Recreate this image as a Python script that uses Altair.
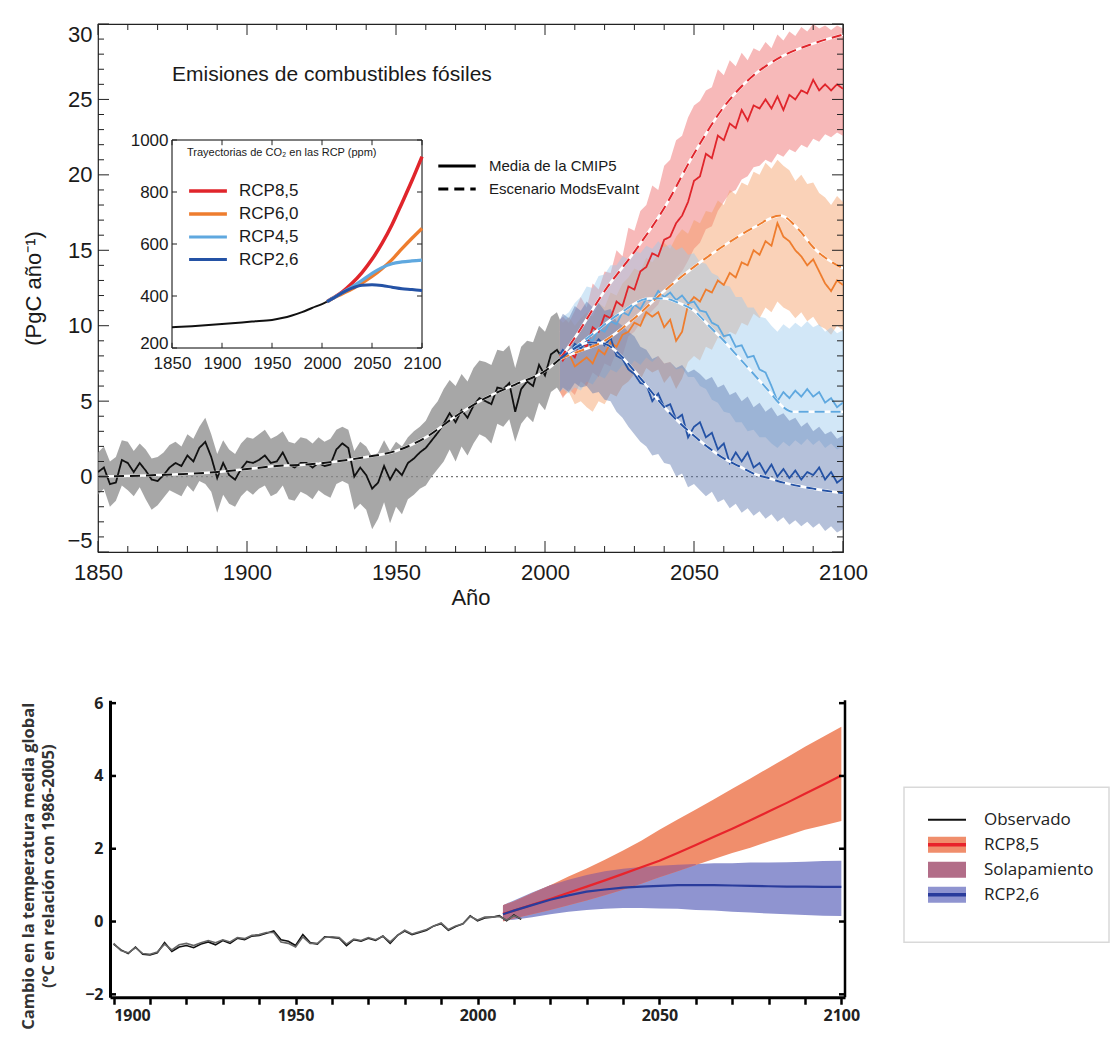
import altair as alt
import pandas as pd

F1 = "Liberation Sans, Arial, sans-serif"
F2 = "Open Sans, sans-serif"
INK = "#1a1a1a"

# ====================== TOP PANEL: fossil-fuel emissions (PgC/yr) ======================
HIST_YEARS = list(range(1850, 2005, 2)) + [2005]
HIST_MEAN = [
    0.3, 0.6, -0.5, -0.4, 1.1,
    0.9, 0.3, 0.9, 0.4, -0.2,
    -0.3, 0.1, 0.6, 0.9, 0.7,
    1.4, 1.0, 1.9, 2.3, 1.3,
    -0.1, 0.9, 0.1, -0.2, 0.5,
    1.0, 0.9, 1.1, 1.4, 0.9,
    1.0, 1.6, 0.8, 0.6, 0.9,
    0.9, 0.6, 0.9, 0.7, 0.8,
    1.8, 2.2, 1.9, 0.0, 0.6,
    0.1, -0.8, -0.4, 0.7, -0.2,
    0.5, 0.1, 0.9, 1.2, 1.6,
    1.9, 2.4, 2.9, 3.5, 4.2,
    3.6, 4.4, 3.9, 4.7, 5.2,
    5.0, 4.8, 5.9, 5.8, 6.2,
    4.3, 5.8, 6.3, 6.0, 7.4,
    6.7, 8.1, 8.4, 8.1,
]
HIST_LO = [
    -1.2, -0.8, -2.0, -1.6, -0.6,
    -0.9, -1.3, -0.7, -1.5, -2.2,
    -1.9, -1.4, -0.9, -1.1, -1.3,
    -0.6, -1.0, -0.3, -0.5, -1.0,
    -2.4, -1.2, -1.8, -2.0, -1.3,
    -0.9, -1.2, -0.8, -0.6, -1.3,
    -1.1, -0.6, -1.5, -1.6, -1.0,
    -1.2, -1.5, -0.9, -1.2, -1.4,
    -0.5, -0.3, -0.5, -2.2, -1.8,
    -2.2, -3.5, -2.8, -1.7, -3.1,
    -2.0, -2.5, -1.5, -1.2, -0.8,
    -0.6, 0.0, 0.5, 1.0, 1.8,
    1.0, 2.0, 1.4, 2.2, 2.8,
    2.6, 2.2, 3.5, 3.3, 3.8,
    2.3, 3.5, 4.0, 3.6, 4.9,
    4.4, 5.6, 5.9, 5.6,
]
HIST_HI = [
    1.6, 2.0, 1.0, 1.3, 2.4,
    2.3, 1.7, 2.2, 1.8, 1.2,
    1.3, 1.6, 2.1, 2.3, 2.0,
    2.8, 2.5, 3.3, 3.9, 2.8,
    1.5, 2.4, 1.8, 1.5, 2.2,
    2.6, 2.5, 2.8, 3.1, 2.5,
    2.7, 3.0, 2.3, 2.2, 2.6,
    2.5, 2.2, 2.6, 2.3, 2.5,
    3.1, 3.3, 3.1, 1.7, 2.3,
    2.0, 1.3, 1.6, 2.4, 1.7,
    2.3, 2.0, 2.6, 3.0, 3.3,
    3.7, 4.5, 5.0, 5.8, 6.4,
    6.0, 6.8, 6.3, 7.2, 7.7,
    7.6, 7.4, 8.4, 8.3, 8.7,
    7.2, 8.6, 9.0, 8.9, 10.0,
    9.6, 10.6, 10.9, 10.4,
]
HIST_SMOOTH_YEARS = [1850, 1870, 1890, 1900, 1910, 1920, 1930, 1940, 1950, 1960, 1970, 1980, 1990, 2000, 2005]
HIST_SMOOTH = [0.0, 0.1, 0.3, 0.5, 0.7, 0.8, 1.0, 1.3, 1.7, 2.6, 4.0, 5.2, 6.1, 7.0, 7.8]

RCP_NAMES = ["RCP8,5", "RCP6,0", "RCP4,5", "RCP2,6"]
RCP_YEARS = [2005] + list(range(2006, 2101, 2))

RCP85_MEAN = [8.1,
    7.7, 8.3, 7.9, 8.9, 8.6,  9.9, 9.6, 10.7, 10.5, 11.6,
    11.3, 12.6, 12.4, 13.6, 13.9,  14.8, 14.6, 15.7, 15.9, 16.8,
    17.3, 18.2, 19.6, 19.9, 21.4,  21.1, 22.6, 22.3, 23.4, 23.1,
    24.3, 23.6, 24.6, 24.4, 25.0,  24.4, 25.2, 24.3, 25.3, 25.0,
    25.6, 25.4, 26.3, 25.6, 26.0,  25.6, 26.0, 25.7]
RCP85_HI = [10.4,
    10.6, 10.2, 11.0, 11.9, 11.2,  12.8, 12.4, 13.6, 13.5, 15.0,
    14.6, 16.5, 16.3, 17.6, 18.0,  19.3, 19.0, 20.6, 21.0, 22.3,
    22.6, 23.8, 24.6, 24.9, 25.6,  25.8, 27.0, 26.6, 27.6, 27.2,
    28.1, 27.6, 28.4, 28.2, 28.8,  28.4, 29.3, 28.9, 29.5, 29.2,
    29.8, 29.5, 30.0, 29.7, 29.9,  29.6, 29.9, 29.7]
RCP85_LO = [5.6,
    5.2, 5.8, 5.4, 6.3, 6.0,  6.9, 6.6, 7.5, 7.3, 8.3,
    8.0, 9.3, 9.6, 10.2, 10.6,  11.0, 11.4, 12.3, 12.5, 13.2,
    13.6, 14.3, 15.1, 15.5, 16.4,  16.6, 17.6, 18.2, 18.8, 19.0,
    19.7, 19.9, 20.5, 20.6, 21.0,  20.8, 21.4, 21.2, 21.7, 21.5,
    22.0, 21.8, 22.4, 22.2, 22.7,  22.5, 22.8, 22.6]

RCP60_MEAN = [8.1,
    7.8, 8.2, 7.3, 7.6, 7.9,  7.5, 8.4, 8.1, 8.9, 8.6,
    9.4, 9.6, 10.2, 10.0, 10.9,  10.6, 10.9, 9.9, 10.4, 9.0,
    9.6, 11.4, 11.9, 11.6, 12.4,  12.2, 13.0, 12.7, 13.5, 13.2,
    14.2, 14.0, 15.0, 14.7, 15.6,  15.3, 16.8, 15.9, 15.6, 15.0,
    14.6, 14.0, 14.4, 13.6, 12.8,  12.3, 13.0, 12.7]
RCP60_HI = [10.4,
    10.2, 10.6, 10.0, 10.5, 10.9,  10.6, 11.5, 11.2, 12.2, 12.0,
    12.8, 13.2, 13.8, 13.6, 14.5,  14.2, 14.8, 15.5, 15.1, 15.9,
    16.4, 16.1, 17.0, 16.8, 17.6,  17.5, 18.3, 18.0, 19.0, 18.7,
    19.5, 19.3, 20.2, 20.0, 20.8,  20.4, 21.0, 20.6, 20.3, 19.6,
    20.0, 19.4, 19.5, 18.8, 18.5,  18.0, 18.6, 18.2]
RCP60_LO = [5.6,
    5.3, 5.6, 4.8, 5.0, 4.6,  4.3, 5.0, 4.8, 5.5, 5.3,
    6.0, 6.3, 6.8, 6.4, 7.2,  6.9, 7.1, 6.2, 6.7, 5.8,
    6.5, 7.6, 8.0, 7.7, 8.6,  8.4, 9.2, 9.0, 9.6, 9.4,
    10.2, 10.0, 10.8, 10.5, 11.2,  10.9, 11.6, 11.2, 11.0, 10.5,
    10.9, 10.3, 10.6, 10.0, 9.8,  9.4, 10.0, 9.7]

RCP45_MEAN = [8.1,
    8.3, 8.0, 8.6, 8.4, 9.2,  9.0, 9.8, 9.6, 10.3, 10.1,
    10.9, 10.7, 11.4, 11.1, 11.8,  11.6, 12.3, 11.9, 12.2, 11.7,
    12.0, 11.5, 11.6, 11.0, 10.9,  10.2, 10.0, 9.3, 9.4, 8.6,
    8.7, 7.9, 8.0, 7.1, 6.9,  6.0, 5.0, 5.6, 5.2, 5.7,
    5.3, 5.8, 5.3, 5.6, 4.9,  5.2, 4.6, 4.9]
RCP45_HI = [10.4,
    10.6, 10.9, 11.5, 11.9, 12.6,  12.5, 13.3, 13.4, 14.0, 14.0,
    14.6, 14.4, 15.0, 14.8, 15.3,  15.1, 15.6, 15.2, 15.4, 15.0,
    15.2, 14.7, 14.8, 14.2, 14.1,  13.5, 13.3, 12.7, 12.6, 11.9,
    11.9, 11.2, 11.2, 10.6, 10.5,  10.0, 9.6, 10.1, 9.8, 10.2,
    9.9, 10.3, 9.9, 10.1, 9.6,  9.9, 9.5, 9.7]
RCP45_LO = [5.6,
    5.8, 5.5, 5.9, 5.7, 6.3,  6.1, 6.7, 6.5, 7.1, 6.9,
    7.4, 7.2, 7.7, 7.4, 7.9,  7.6, 8.0, 7.5, 7.6, 7.1,
    7.2, 6.6, 6.6, 6.0, 5.8,  5.1, 4.9, 4.3, 4.2, 3.6,
    3.6, 3.0, 3.1, 2.6, 2.6,  2.2, 1.9, 2.3, 2.0, 2.4,
    2.1, 2.5, 2.1, 2.4, 1.9,  2.2, 1.8, 2.0]

RCP26_MEAN = [8.1,
    8.4, 8.0, 8.8, 8.5, 9.0,  8.6, 9.1, 8.7, 9.2, 8.0,
    7.8, 7.1, 6.8, 6.2, 6.1,  5.0, 5.5, 4.6, 4.8, 3.8,
    4.1, 2.6, 3.3, 3.6, 2.6,  2.9, 1.8, 2.2, 0.9, 1.6,
    1.0, 1.6, 0.6, 0.9, 0.2,  0.8, 0.0, 0.5, -0.1, 0.4,
    -0.2, 0.3, 0.1, 0.6, -0.2,  0.3, -0.4, -0.1]
RCP26_HI = [10.4,
    10.8, 10.5, 11.3, 11.0, 11.6,  11.2, 11.5, 11.0, 11.1, 10.3,
    10.0, 9.6, 9.3, 8.6, 8.4,  7.8, 8.0, 7.5, 7.6, 7.2,
    7.4, 6.9, 7.1, 6.8, 6.4,  6.6, 5.9, 6.1, 5.4, 5.6,
    5.0, 5.3, 4.6, 4.9, 4.3,  4.6, 4.0, 4.2, 3.7, 3.9,
    3.3, 3.6, 3.0, 3.3, 2.8,  3.0, 2.5, 2.7]
RCP26_LO = [5.6,
    5.9, 5.6, 6.2, 5.9, 6.0,  5.5, 5.6, 5.1, 5.0, 4.3,
    3.9, 3.3, 2.8, 2.3, 2.0,  1.4, 1.5, 0.9, 0.8, 0.0,
    0.2, -0.7, -0.5, -0.9, -1.3,  -1.0, -1.7, -1.5, -2.1, -1.8,
    -2.4, -2.1, -2.6, -2.3, -2.8,  -2.5, -3.0, -2.7, -3.2, -2.9,
    -3.3, -3.0, -3.4, -3.1, -3.6,  -3.3, -3.7, -3.5]

RCP85_SM_YEARS = [2005, 2010, 2020, 2030, 2040, 2050, 2060, 2070, 2080, 2090, 2100]
RCP85_SM = [7.8, 9.2, 12.3, 14.9, 17.8, 21.4, 24.5, 26.6, 27.9, 28.7, 29.3]
RCP60_SM_YEARS = [2005, 2010, 2020, 2030, 2040, 2050, 2060, 2070, 2079, 2085, 2090, 2100]
RCP60_SM = [7.8, 8.2, 9.0, 10.5, 12.3, 13.9, 15.3, 16.5, 17.3, 16.4, 15.2, 13.8]
RCP45_SM_YEARS = [2005, 2015, 2025, 2035, 2040, 2045, 2050, 2055, 2060, 2065, 2070, 2075, 2080, 2083, 2090, 2100]
RCP45_SM = [7.8, 9.3, 10.8, 11.8, 11.8, 11.5, 11.0, 10.0, 9.0, 7.9, 6.8, 5.7, 4.6, 4.3, 4.3, 4.3]
RCP26_SM_YEARS = [2005, 2010, 2015, 2020, 2025, 2030, 2035, 2040, 2045, 2050, 2055, 2060, 2065, 2070, 2075, 2080, 2090, 2100]
RCP26_SM = [7.8, 8.5, 8.9, 8.8, 8.1, 7.0, 5.8, 4.6, 3.6, 2.7, 1.9, 1.2, 0.7, 0.2, -0.1, -0.4, -0.8, -1.1]

LINE_SERIES = ["Hist"] + RCP_NAMES
LINE_COLORS = ["#111111", "#e0252b", "#ee7d2e", "#5fa8df", "#2452a5"]
BAND_COLORS = ["#ee6464", "#f39c62", "#9ccaee", "#5a76ad"]
STYLES = ["Media de la CMIP5", "Escenario ModsEvaInt"]

X_LABELS = [1850, 1900, 1950, 2000, 2050, 2100]
X_MINOR = [1860, 1870, 1880, 1890, 1910, 1920, 1930, 1940, 1960, 1970, 1980, 1990,
           2010, 2020, 2030, 2040, 2060, 2070, 2080, 2090]
Y_LABELS = [-5, 0, 5, 10, 15, 20, 25, 30]
Y_MINOR = [v for v in range(-5, 31) if v % 5]
ZERO = [0]
TITLE_TOP = "Emisiones de combustibles fósiles"

# ---- inset: CO2 trajectories (ppm)
INSET_X_DOMAIN = [1850, 2100]
INSET_Y_DOMAIN = [200, 1000]
INSET_X_LABELS = [1850, 1900, 1950, 2000, 2050, 2100]
INSET_Y_LABELS = [200, 400, 600, 800, 1000]
INSET_HIST_YEARS = [1850, 1870, 1890, 1910, 1930, 1950, 1960, 1970, 1980, 1990, 2000, 2005]
INSET_HIST_PPM = [280, 284, 289, 295, 302, 308, 315, 325, 338, 354, 369, 378]
INSET_RCP_YEARS = [2005, 2010, 2020, 2030, 2040, 2050, 2060, 2070, 2080, 2090, 2100]
RCP85_PPM = [378, 390, 415, 449, 490, 541, 602, 674, 758, 844, 936]
RCP60_PPM = [378, 389, 408, 427, 450, 475, 505, 540, 582, 622, 660]
RCP45_PPM = [378, 390, 412, 435, 460, 487, 509, 524, 531, 535, 538]
RCP26_PPM = [378, 389, 412, 430, 441, 443, 440, 434, 428, 425, 421]
INSET_WIDTHS = [3.5, 3.0, 2.0, 2.5]

# ====================== BOTTOM PANEL: temperature change (°C) ======================
OBS_YEARS = list(range(1900, 2013, 2))
OBS_A = [
    -0.62, -0.78, -0.88, -0.70, -0.90,
    -0.92, -0.86, -0.58, -0.82, -0.70,
    -0.66, -0.72, -0.62, -0.56, -0.64,
    -0.52, -0.60, -0.46, -0.50, -0.40,
    -0.38, -0.32, -0.26, -0.50, -0.54,
    -0.66, -0.36, -0.58, -0.62, -0.42,
    -0.44, -0.46, -0.66, -0.50, -0.54,
    -0.46, -0.52, -0.40, -0.60, -0.38,
    -0.26, -0.36, -0.30, -0.24, -0.12,
    -0.06, -0.24, -0.14, -0.06, 0.16,
    0.02, 0.10, 0.12, 0.16, 0.02,
    0.18, 0.06]
OBS_B = [
    -0.60, -0.80, -0.86, -0.72, -0.88,
    -0.90, -0.84, -0.62, -0.78, -0.64,
    -0.60, -0.66, -0.58, -0.52, -0.58,
    -0.50, -0.56, -0.44, -0.47, -0.38,
    -0.36, -0.30, -0.30, -0.56, -0.60,
    -0.70, -0.42, -0.60, -0.60, -0.44,
    -0.42, -0.44, -0.62, -0.48, -0.52,
    -0.44, -0.50, -0.40, -0.56, -0.38,
    -0.24, -0.34, -0.28, -0.22, -0.12,
    -0.04, -0.22, -0.12, -0.06, 0.14,
    0.04, 0.12, 0.12, 0.14, 0.04,
    0.16, 0.08]
PROJ_YEARS = [2007] + list(range(2010, 2101, 5))
RED_MEAN = [0.21, 0.30, 0.46, 0.62, 0.79, 0.96, 1.13, 1.31, 1.49, 1.67,
            1.88, 2.10, 2.33, 2.55, 2.78, 3.02, 3.26, 3.51, 3.76, 4.01]
RED_HI = [0.45, 0.55, 0.78, 1.00, 1.24, 1.46, 1.70, 1.95, 2.22, 2.52,
          2.80, 3.08, 3.36, 3.65, 3.93, 4.22, 4.51, 4.80, 5.08, 5.35]
RED_LO = [0.00, 0.08, 0.20, 0.32, 0.45, 0.58, 0.72, 0.87, 1.04, 1.22,
          1.38, 1.55, 1.72, 1.88, 2.03, 2.20, 2.36, 2.52, 2.64, 2.76]
BLUE_MEAN = [0.20, 0.30, 0.45, 0.60, 0.72, 0.82, 0.88, 0.93, 0.96, 0.98,
             1.00, 1.00, 1.00, 0.99, 0.98, 0.97, 0.96, 0.96, 0.95, 0.95]
BLUE_HI = [0.45, 0.58, 0.80, 1.00, 1.15, 1.28, 1.38, 1.45, 1.50, 1.53,
           1.56, 1.58, 1.60, 1.60, 1.62, 1.62, 1.63, 1.64, 1.66, 1.67]
BLUE_LO = [0.02, 0.05, 0.12, 0.20, 0.27, 0.32, 0.35, 0.37, 0.37, 0.36,
           0.35, 0.32, 0.30, 0.27, 0.25, 0.22, 0.20, 0.18, 0.16, 0.15]
TEMP_X_DOMAIN = [1899, 2101]
TEMP_Y_DOMAIN = [-2.08, 6.08]
TEMP_X_TICKS = list(range(1900, 2101, 10))
TEMP_Y_TICKS = [-2, 0, 2, 4, 6]
TEMP_TITLE = ["Cambio en la temperatura media global", "(°C en relación con 1986-2005)"]
LEG_LABELS = ["Observado", "RCP8,5", "Solapamiento", "RCP2,6"]

RED_BAND, BLUE_BAND, OVERLAP = "#f08e6c", "#8f94d0", "#b26d88"
RED_LINE, BLUE_LINE = "#e8242b", "#2a3c9c"

for arr in (HIST_MEAN, HIST_LO, HIST_HI):
    assert len(arr) == len(HIST_YEARS)
for arr in (RCP85_MEAN, RCP85_HI, RCP85_LO, RCP60_MEAN, RCP60_HI, RCP60_LO,
            RCP45_MEAN, RCP45_HI, RCP45_LO, RCP26_MEAN, RCP26_HI, RCP26_LO):
    assert len(arr) == len(RCP_YEARS), len(arr)
for arr in (OBS_A, OBS_B):
    assert len(arr) == len(OBS_YEARS)
for arr in (RED_MEAN, RED_HI, RED_LO, BLUE_MEAN, BLUE_HI, BLUE_LO):
    assert len(arr) == len(PROJ_YEARS)

# ---------------------------- tables ----------------------------
means = [RCP85_MEAN, RCP60_MEAN, RCP45_MEAN, RCP26_MEAN]
los = [RCP85_LO, RCP60_LO, RCP45_LO, RCP26_LO]
his = [RCP85_HI, RCP60_HI, RCP45_HI, RCP26_HI]
smooths = [(RCP85_SM_YEARS, RCP85_SM), (RCP60_SM_YEARS, RCP60_SM),
           (RCP45_SM_YEARS, RCP45_SM), (RCP26_SM_YEARS, RCP26_SM)]
ppms = [RCP85_PPM, RCP60_PPM, RCP45_PPM, RCP26_PPM]

hist_band_df = pd.DataFrame({"year": HIST_YEARS, "lo": HIST_LO, "hi": HIST_HI})
band_rows, line_rows, smooth_rows, inset_rows = [], [], [], []
for name, m, lo, hi, (sy, sv), pp in zip(RCP_NAMES, means, los, his, smooths, ppms):
    for y, a, b in zip(RCP_YEARS, lo, hi):
        band_rows.append({"year": y, "lo": a, "hi": b, "serie": name})
    for y, v in zip(RCP_YEARS, m):
        line_rows.append({"year": y, "val": v, "serie": name, "estilo": STYLES[0]})
    for y, v in zip(sy, sv):
        smooth_rows.append({"year": y, "val": v, "serie": name, "estilo": STYLES[1]})
    for y, v in zip(INSET_RCP_YEARS, pp):
        inset_rows.append({"year": y, "ppm": v, "serie": name})
for y, v in zip(HIST_YEARS, HIST_MEAN):
    line_rows.insert(0, {"year": y, "val": v, "serie": "Hist", "estilo": STYLES[0]})
for y, v in zip(HIST_SMOOTH_YEARS, HIST_SMOOTH):
    smooth_rows.insert(0, {"year": y, "val": v, "serie": "Hist", "estilo": STYLES[1]})
bands_df = pd.DataFrame(band_rows)
lines_df = pd.DataFrame(line_rows)
smooth_df = pd.DataFrame(smooth_rows)
inset_df = pd.DataFrame(inset_rows)
inset_hist_df = pd.DataFrame({"year": INSET_HIST_YEARS, "ppm": INSET_HIST_PPM})

# ---------------------------- top panel ----------------------------
W1, H1 = 745, 528
XS = alt.Scale(domain=[1850, 2100], nice=False, zero=False)
YS = alt.Scale(domain=[-5, 30], nice=False, zero=False)

x_axis = alt.Axis(values=X_LABELS, format="d", title="Año", ticks=False, domain=False, grid=False,
                  labelFlush=False, labelOverlap=False,
                  labelFont=F1, labelFontSize=22, labelColor=INK, labelPadding=10,
                  titleFont=F1, titleFontSize=22, titleFontWeight="normal", titleColor=INK, titlePadding=4)
y_axis = alt.Axis(values=Y_LABELS, title="(PgC año⁻¹)", ticks=False, domain=False, grid=False,
                  labelFlush=True, labelOverlap=False,
                  labelFont=F1, labelFontSize=22, labelColor=INK, labelPadding=6,
                  titleFont=F1, titleFontSize=22, titleFontWeight="normal", titleColor=INK, titlePadding=21)


def MX(field):
    return alt.X(field, type="quantitative", scale=XS, axis=x_axis)


def MY(field):
    return alt.Y(field, type="quantitative", scale=YS, axis=y_axis)


stroke_sc = alt.Scale(domain=LINE_SERIES, range=LINE_COLORS)
dash_sc = alt.Scale(domain=STYLES, range=[[1, 0], [10, 6]])
style_legend = alt.Legend(title=None, orient="none", legendX=339, legendY=132, padding=0,
                          symbolType="M-2.2,0H2.2", symbolSize=289, symbolOffset=10,
                          symbolStrokeColor="black", symbolStrokeWidth=3,
                          labelFont=F1, labelFontSize=15, labelColor=INK, labelOffset=22, rowPadding=5)


def tick_x(values, y0, y1):
    return alt.Chart(pd.DataFrame({"v": values})).mark_rule(color="#222", strokeWidth=1).encode(
        x=MX("v"), y=alt.value(y0), y2=alt.value(y1))


def tick_y(values, x0, x1):
    return alt.Chart(pd.DataFrame({"v": values})).mark_rule(color="#222", strokeWidth=1).encode(
        y=MY("v"), x=alt.value(x0), x2=alt.value(x1))


zero_rule = alt.Chart(pd.DataFrame({"v": ZERO})).mark_rule(color="#777", strokeDash=[2, 3], strokeWidth=1.3).encode(
    y=MY("v"))

hist_band = alt.Chart(hist_band_df).mark_area(color="#8a8a8a", opacity=0.75, clip=True).encode(
    x=MX("year"), y=MY("lo"), y2="hi:Q")

rcp_bands = alt.Chart(bands_df).mark_area(opacity=0.45, clip=True).encode(
    x=MX("year"), y=MY("lo"), y2="hi:Q",
    fill=alt.Fill("serie:N", scale=alt.Scale(domain=RCP_NAMES, range=BAND_COLORS), legend=None))

solid_lines = alt.Chart(lines_df).mark_line(strokeWidth=1.8, clip=True).encode(
    x=MX("year"), y=MY("val"),
    stroke=alt.Stroke("serie:N", scale=stroke_sc, legend=None),
    strokeDash=alt.StrokeDash("estilo:N", scale=dash_sc, legend=style_legend))

white_under = alt.Chart(smooth_df).mark_line(color="white", strokeWidth=2.6, interpolate="monotone", clip=True).encode(
    x=MX("year"), y=MY("val"), detail="serie:N")

dashed_lines = alt.Chart(smooth_df).mark_line(strokeWidth=2, interpolate="monotone", clip=True).encode(
    x=MX("year"), y=MY("val"),
    stroke=alt.Stroke("serie:N", scale=stroke_sc, legend=None),
    strokeDash=alt.StrokeDash("estilo:N", scale=dash_sc, legend=style_legend))

title_text = alt.Chart(pd.DataFrame({"t": [TITLE_TOP]})).mark_text(
    align="left", baseline="middle", font=F1, fontSize=21, color=INK).encode(
    x=alt.value(74), y=alt.value(51), text="t:N")

main = alt.layer(
    zero_rule, hist_band, rcp_bands, solid_lines, white_under, dashed_lines,
    tick_x(X_LABELS, H1, H1 - 11), tick_x(X_MINOR, H1, H1 - 6),
    tick_x(X_LABELS, 0, 11), tick_x(X_MINOR, 0, 6),
    tick_y(Y_LABELS, 0, 11), tick_y(Y_MINOR, 0, 6),
    tick_y(Y_LABELS, W1, W1 - 11), tick_y(Y_MINOR, W1, W1 - 6),
    title_text,
)

# ---- inset
IXS = alt.Scale(domain=INSET_X_DOMAIN, range=[74, 324], nice=False, zero=False)
IYS = alt.Scale(domain=INSET_Y_DOMAIN, range=[324, 116], nice=False, zero=False)
ix_axis = alt.Axis(orient="bottom", offset=-(H1 - 324), values=INSET_X_LABELS, format="d", title=None,
                   ticks=False, domain=False, grid=False, labelFlush=False, labelOverlap=False,
                   labelFont=F1, labelFontSize=17, labelColor=INK, labelPadding=7)
iy_axis = alt.Axis(orient="left", offset=-74, values=INSET_Y_LABELS, format="d", title=None,
                   ticks=False, domain=False, grid=False, labelFlush=False, labelOverlap=False,
                   labelBaseline=alt.ExprRef(expr="datum.value == 200 ? 'alphabetic' : 'middle'"),
                   labelFont=F1, labelFontSize=17, labelColor=INK, labelPadding=4)


def IX(field=None, datum=None):
    if datum is not None:
        return alt.X(datum=datum, type="quantitative", scale=IXS, axis=ix_axis)
    return alt.X(field, type="quantitative", scale=IXS, axis=ix_axis)


def IY(field=None, datum=None):
    if datum is not None:
        return alt.Y(datum=datum, type="quantitative", scale=IYS, axis=iy_axis)
    return alt.Y(field, type="quantitative", scale=IYS, axis=iy_axis)


inset_legend = alt.Legend(title="Trayectorias de CO₂ en las RCP (ppm)", orient="none", legendX=89, legendY=123,
                          padding=0, titleFont=F1, titleFontSize=11, titleFontWeight="normal", titleColor=INK,
                          titlePadding=22, titleLimit=400, symbolType="M-2.1,0H2.1", symbolSize=324,
                          symbolOffset=10, labelFont=F1, labelFontSize=17, labelColor=INK, labelOffset=20,
                          rowPadding=4)

inset_box = alt.Chart(pd.DataFrame({"x1": [INSET_X_DOMAIN[0]], "x2": [INSET_X_DOMAIN[1]],
                                    "y1": [INSET_Y_DOMAIN[0]], "y2": [INSET_Y_DOMAIN[1]]})).mark_rect(
    fill="white", stroke="black", strokeWidth=1).encode(
    x=IX("x1"), x2="x2:Q", y=IY("y1"), y2="y2:Q")


def inset_tick_x(y_edge, y_in):
    return alt.Chart(pd.DataFrame({"v": INSET_X_LABELS})).mark_rule(color="#222").encode(
        x=IX("v"), y=IY(datum=y_edge), y2=alt.Y2(datum=y_in))


def inset_tick_y(x_edge, x_in):
    return alt.Chart(pd.DataFrame({"v": INSET_Y_LABELS})).mark_rule(color="#222").encode(
        y=IY("v"), x=IX(datum=x_edge), x2=alt.X2(datum=x_in))


inset_hist = alt.Chart(inset_hist_df).mark_line(color="#111", strokeWidth=2, interpolate="monotone").encode(
    x=IX("year"), y=IY("ppm"))
inset_lines = alt.Chart(inset_df).mark_line(interpolate="monotone").encode(
    x=IX("year"), y=IY("ppm"),
    stroke=alt.Stroke("serie:N", scale=alt.Scale(domain=RCP_NAMES, range=LINE_COLORS[1:]), legend=inset_legend),
    strokeWidth=alt.StrokeWidth("serie:N", scale=alt.Scale(domain=RCP_NAMES, range=INSET_WIDTHS), legend=inset_legend))

inset = alt.layer(inset_box, inset_tick_x(200, 220), inset_tick_x(1000, 980),
                  inset_tick_y(1850, 1855), inset_tick_y(2100, 2095), inset_hist, inset_lines)

top = alt.layer(main, inset).resolve_scale(
    x="independent", y="independent", stroke="independent", strokeWidth="independent"
).properties(width=W1, height=H1, view=alt.ViewBackground(stroke="#222", strokeWidth=1.2))

# ---------------------------- bottom panel ----------------------------
W2, H2 = 735, 297
TX = alt.Scale(domain=TEMP_X_DOMAIN, nice=False, zero=False)
TY = alt.Scale(domain=TEMP_Y_DOMAIN, nice=False, zero=False)
tx_axis = alt.Axis(values=TEMP_X_TICKS, format="d", title=None, grid=False, labelFlush=False, labelOverlap=False,
                   labelExpr="datum.value % 50 == 0 ? datum.label : ''",
                   labelAlign=alt.ExprRef(expr="datum.value == 1900 ? 'left' : 'center'"),
                   tickSize=7, tickWidth=2.5, tickColor="black", domainWidth=3, domainColor="black",
                   labelFont=F2, labelFontWeight="bold", labelFontSize=16, labelColor="#222", labelPadding=3)
ty_axis = alt.Axis(values=TEMP_Y_TICKS, title=TEMP_TITLE, grid=False, ticks=False, labelOverlap=False,
                   domainWidth=3, domainColor="black",
                   labelFont=F2, labelFontWeight="bold", labelFontSize=16, labelColor="#222", labelPadding=7,
                   titleFont=F2, titleFontWeight="bold", titleFontSize=16.5, titleColor="#333",
                   titleLineHeight=20, titlePadding=28, titleY=H2 / 2 + 17)


def BX(field):
    return alt.X(field, type="quantitative", scale=TX, axis=tx_axis)


def BY(field):
    return alt.Y(field, type="quantitative", scale=TY, axis=ty_axis)


proj = pd.DataFrame({"year": PROJ_YEARS, "r_mean": RED_MEAN, "r_lo": RED_LO, "r_hi": RED_HI,
                     "b_mean": BLUE_MEAN, "b_lo": BLUE_LO, "b_hi": BLUE_HI})
ov = pd.DataFrame({"year": PROJ_YEARS,
                   "lo": [max(a, b) for a, b in zip(RED_LO, BLUE_LO)],
                   "hi": [min(a, b) for a, b in zip(RED_HI, BLUE_HI)]})
ov = ov[ov["hi"] >= ov["lo"]]
obs = pd.DataFrame({"year": OBS_YEARS * 2, "t": OBS_A + OBS_B,
                    "set": ["a"] * len(OBS_YEARS) + ["b"] * len(OBS_YEARS)})

blue_band = alt.Chart(proj).mark_area(color=BLUE_BAND).encode(x=BX("year"), y=BY("b_lo"), y2="b_hi:Q")
red_band = alt.Chart(proj).mark_area(color=RED_BAND).encode(x=BX("year"), y=BY("r_lo"), y2="r_hi:Q")
ov_band = alt.Chart(ov).mark_area(color=OVERLAP).encode(x=BX("year"), y=BY("lo"), y2="hi:Q")
obs_lines = alt.Chart(obs).mark_line(strokeWidth=1.6).encode(
    x=BX("year"), y=BY("t"),
    color=alt.Color("set:N", scale=alt.Scale(domain=["a", "b"], range=["#111111", "#666666"]), legend=None))
red_line = alt.Chart(proj).mark_line(color=RED_LINE, strokeWidth=2.2).encode(x=BX("year"), y=BY("r_mean"))
blue_line = alt.Chart(proj).mark_line(color=BLUE_LINE, strokeWidth=2.2).encode(x=BX("year"), y=BY("b_mean"))
right_rule = alt.Chart(pd.DataFrame({"v": [TEMP_X_DOMAIN[1]]})).mark_rule(color="black", strokeWidth=2.5).encode(
    x=BX("v"))
lt = alt.Chart(pd.DataFrame({"v": TEMP_Y_TICKS})).mark_rule(color="black", strokeWidth=2.5).encode(
    y=BY("v"), x=alt.value(0), x2=alt.value(6))
rt = alt.Chart(pd.DataFrame({"v": TEMP_Y_TICKS})).mark_rule(color="black", strokeWidth=2.5).encode(
    y=BY("v"), x=alt.value(W2), x2=alt.value(W2 - 6))

bottom = alt.layer(blue_band, red_band, ov_band, obs_lines, red_line, blue_line, right_rule, lt, rt).properties(
    width=W2, height=H2)

leg_df = pd.DataFrame({"label": LEG_LABELS,
                       "swatch": [None, RED_BAND, OVERLAP, BLUE_BAND],
                       "line": ["#111111", RED_LINE, None, BLUE_LINE],
                       "lw": [2.0, 3.5, 0.0, 3.5]})
LS = alt.Scale(type="point", domain=LEG_LABELS, range=[20, 120])
ly = alt.Y("label:N", scale=LS, axis=None)
leg_sw = alt.Chart(leg_df).transform_filter("datum.swatch != null").mark_rule(strokeWidth=16).encode(
    x=alt.value(24), x2=alt.value(62), y=ly, color=alt.Color("swatch:N", scale=None))
leg_ln = alt.Chart(leg_df).transform_filter("datum.line != null").mark_rule().encode(
    x=alt.value(24), x2=alt.value(62), y=ly, color=alt.Color("line:N", scale=None),
    strokeWidth=alt.StrokeWidth("lw:Q", scale=None))
leg_tx = alt.Chart(leg_df).mark_text(align="left", baseline="middle", font=F2, fontSize=17, color="#222").encode(
    x=alt.value(80), y=ly, text="label:N")
legend_panel = alt.layer(leg_sw, leg_ln, leg_tx).properties(
    width=205, height=155, view=alt.ViewBackground(stroke="#d9d9d9", strokeWidth=1.5, fill="white"))


def spacer(w):
    # empty, invisible column used only to offset the panels horizontally
    return alt.Chart(pd.DataFrame({"s": [0]})).mark_rule(opacity=0, strokeWidth=0).encode(
        x=alt.value(0), x2=alt.value(0), y=alt.value(0), y2=alt.value(0)).properties(width=w, height=1)


top_row = alt.hconcat(spacer(4), top, spacing=0).resolve_scale(strokeDash="independent")
bottom_row = alt.hconcat(alt.hconcat(spacer(2), bottom, spacing=0), legend_panel, spacing=42, center=True)

chart = alt.vconcat(top_row, bottom_row, spacing=85).properties(
    padding={"left": 16, "top": 22, "right": 0, "bottom": 6}, background="white"
).configure_view(stroke="transparent")

chart.save("out.html", embed_options={"renderer": "svg", "actions": False})
